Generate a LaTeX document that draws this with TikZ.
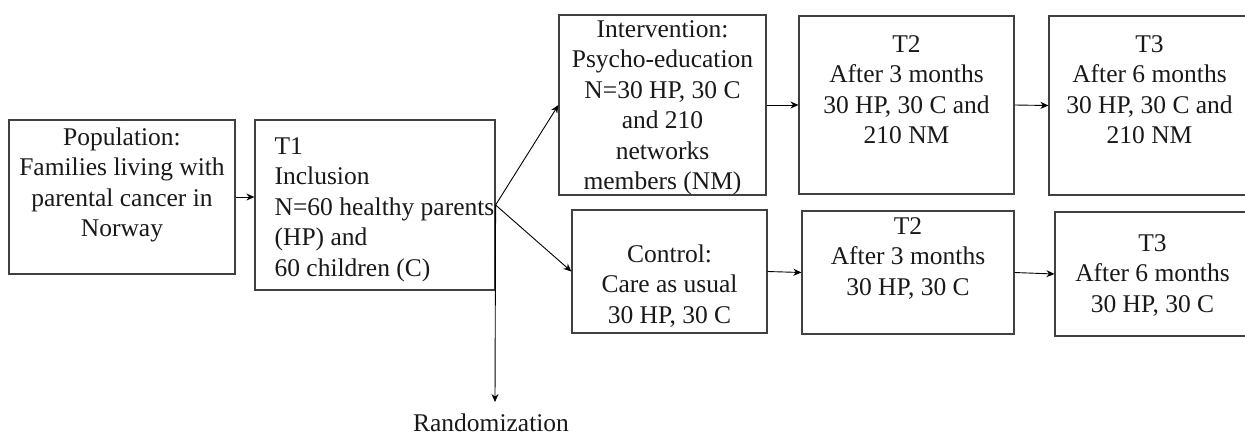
\documentclass[tikz,border=0pt]{standalone}
\usepackage{fontspec}
\setmainfont{Liberation Serif}
\usepackage{tikz}
\usetikzlibrary{arrows, arrows.meta}
\tikzstyle{arrow} = [line width=0.9pt,->,>={Stealth[length=8pt,width=7pt]}]
\tikzstyle{box} = [draw=black!75, line width=1.2pt, inner sep=0pt]
\tikzstyle{txt} = [inner sep=0pt, align=center, text=black!90, font=\fontsize{25.5}{30.5}\selectfont]

\begin{document}
\begin{tikzpicture}[x=1pt, y=-1pt]
    \useasboundingbox (0,0) rectangle (1245,437);
    % boxes
    \node[box, minimum width=226pt, minimum height=154pt] (pop) at (122,197) {};
    \node[box, minimum width=240pt, minimum height=170pt] (t1) at (375,205) {};
    \node[box, minimum width=207pt, minimum height=180pt] (intv) at (662.5,105) {};
    \node[box, minimum width=215pt, minimum height=178pt] (t2a) at (906.5,105) {};
    \node[box, minimum width=201pt, minimum height=179pt] (t3a) at (1149.5,105.5) {};
    \node[box, minimum width=195pt, minimum height=123pt] (ctrl) at (669.5,271.5) {};
    \node[box, minimum width=212pt, minimum height=123pt] (t2b) at (908,272.5) {};
    \node[box, minimum width=195pt, minimum height=124pt] (t3b) at (1152.5,274) {};
    % texts
    \node[txt, anchor=north] at ([yshift=-8pt]pop.north) {Population:\\Families living with\\parental cancer in\\Norway};
    \node[txt, anchor=north west, align=left] at ([xshift=20pt, yshift=-18pt]t1.north west) {T1\\Inclusion\\N=60 healthy parents\\(HP) and\\60 children (C)};
    \node[txt, anchor=north] at ([yshift=-6pt]intv.north) {Intervention:\\Psycho-education\\N=30 HP, 30 C\\and 210\\networks\\members (NM)};
    \node[txt, anchor=north] at ([yshift=-20pt]t2a.north) {T2\\After 3 months\\30 HP, 30 C and\\210 NM};
    \node[txt, anchor=north] at ([yshift=-20pt]t3a.north) {T3\\After 6 months\\30 HP, 30 C and\\210 NM};
    \node[txt, anchor=north] at ([yshift=-35pt]ctrl.north) {Control:\\Care as usual\\30 HP, 30 C};
    \node[txt, anchor=north] at ([yshift=-7pt]t2b.north) {T2\\After 3 months\\30 HP, 30 C};
    \node[txt, anchor=north] at ([yshift=-23pt]t3b.north) {T3\\After 6 months\\30 HP, 30 C};
    \node[txt, anchor=base] (rand) at (491,431) {Randomization};
    \coordinate (rtip) at (495,402);
    % connectors
    \draw[arrow] (pop.east) -- (pop.east -| t1.west);
    \draw[arrow] (t1.east) -- (intv.west);
    \draw[arrow] (t1.east) -- (ctrl.west);
    \draw[arrow] (t1.east) -- (rtip);
    \draw[arrow] (intv.east) -- (t2a.west);
    \draw[arrow] (t2a.east) -- (t3a.west);
    \draw[arrow] (ctrl.east) -- (t2b.west);
    \draw[arrow] (t2b.east) -- (t3b.west);
\end{tikzpicture}
\end{document}
